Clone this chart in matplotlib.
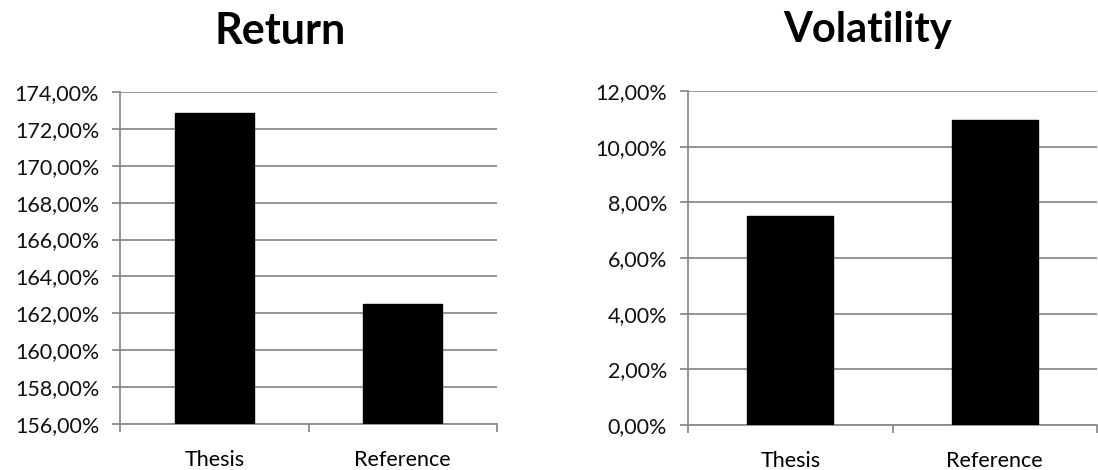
import matplotlib
matplotlib.use("Agg")
import matplotlib.pyplot as plt
from matplotlib.ticker import FuncFormatter, FixedLocator
import numpy as np

categories = ["Thesis", "Reference"]
return_values = [172.85, 162.51]
volatility_values = [7.50, 10.97]
return_ticks = [156, 158, 160, 162, 164, 166, 168, 170, 172, 174]
volatility_ticks = [0, 2, 4, 6, 8, 10, 12]

plt.rcParams['font.family'] = ['Lato', 'DejaVu Sans']

W, H = 1098, 470
fig = plt.figure(figsize=(W / 100, H / 100), dpi=100)

def px_axes(x0, x1, ytop, ybot):
    return fig.add_axes([x0 / W, 1 - ybot / H, (x1 - x0) / W, (ybot - ytop) / H])

ax1 = px_axes(120, 497, 92, 424)
ax2 = px_axes(688, 1097, 91, 425)

fmt = FuncFormatter(lambda v, p: f"{v:.2f}%".replace('.', ','))
grid_c = '#8c8c8c'

def style(ax, vals, ticks):
    x = np.arange(len(categories))
    ax.bar(x, [v - ticks[0] for v in vals], bottom=ticks[0], width=0.42,
           color='black', edgecolor='black', zorder=3)
    ax.set_xlim(-0.5, len(categories) - 0.5)
    ax.set_ylim(ticks[0], ticks[-1])
    ax.yaxis.set_major_locator(FixedLocator(ticks))
    ax.yaxis.set_major_formatter(fmt)
    ax.grid(axis='y', color=grid_c, linewidth=1.3, zorder=0)
    for s in ['top', 'right']:
        ax.spines[s].set_visible(False)
    for s in ['left', 'bottom']:
        ax.spines[s].set_color(grid_c)
        ax.spines[s].set_linewidth(1.3)
        ax.spines[s].set_zorder(1)
    ax.set_xticks([-0.5, 0.5, 1.5])
    ax.set_xticklabels([])
    ax.set_xticks(x, minor=True)
    ax.set_xticklabels(categories, minor=True)
    ax.tick_params(axis='x', which='major', length=6, color=grid_c, width=1.3, direction='out')
    ax.tick_params(axis='x', which='minor', length=0, pad=19, labelsize=15.5)
    ax.tick_params(axis='y', length=6, color=grid_c, width=1.3, labelsize=15.5, pad=9,
                   labelcolor='#111111')

style(ax1, return_values, return_ticks)
style(ax2, volatility_values, volatility_ticks)

fig.text(280 / W, 1 - 31 / H, "Return", fontsize=31, fontweight='bold',
         ha='center', va='center')
fig.text(868 / W, 1 - 30 / H, "Volatility", fontsize=30, fontweight='bold',
         ha='center', va='center')

fig.savefig("out.png", dpi=100)
